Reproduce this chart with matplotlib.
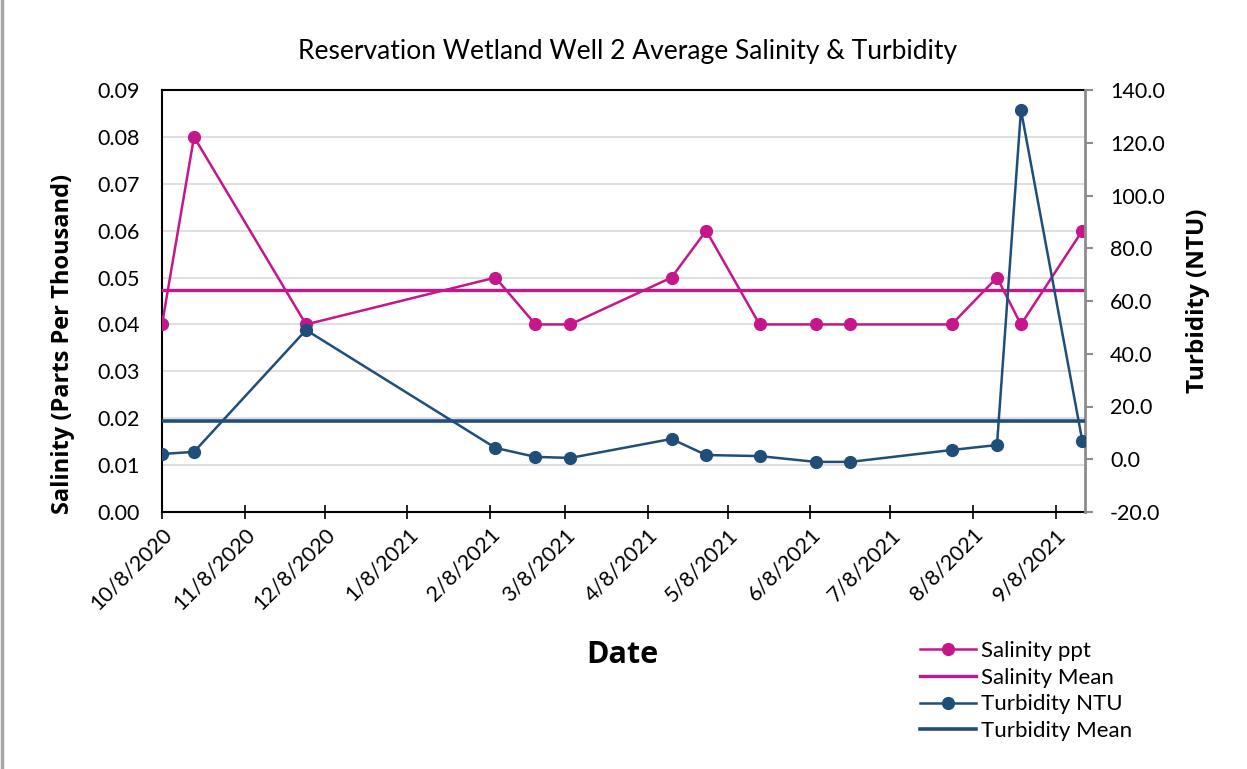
import matplotlib
matplotlib.use("Agg")
import matplotlib.pyplot as plt
from matplotlib.lines import Line2D
import numpy as np
import datetime as dt

# ---- data ----
dates = ["2020-10-08", "2020-10-20", "2020-12-01", "2021-02-10", "2021-02-25",
         "2021-03-10", "2021-04-17", "2021-04-30", "2021-05-20", "2021-06-10",
         "2021-06-23", "2021-07-31", "2021-08-17", "2021-08-26", "2021-09-18"]
salinity = [0.04, 0.08, 0.04, 0.05, 0.04, 0.04, 0.05, 0.06, 0.04, 0.04,
            0.04, 0.04, 0.05, 0.04, 0.06]
turbidity = [2.0, 2.8, 49.0, 4.3, 0.9, 0.5, 7.7, 1.6, 1.2, -1.0,
             -1.0, 3.5, 5.4, 132.4, 6.9]
tick_dates = ["2020-10-08", "2020-11-08", "2020-12-08", "2021-01-08", "2021-02-08",
              "2021-03-08", "2021-04-08", "2021-05-08", "2021-06-08", "2021-07-08",
              "2021-08-08", "2021-09-08"]
title = "Reservation Wetland Well 2 Average Salinity & Turbidity"

x = [dt.datetime.strptime(d, "%Y-%m-%d") for d in dates]
xt = [dt.datetime.strptime(d, "%Y-%m-%d") for d in tick_dates]
sal_mean = float(np.mean(salinity))
turb_mean = float(np.mean(turbidity))

MAG = "#C5168C"
BLUE = "#1F4E79"
TICKFONT = "Lato"
LABELFONT = "Open Sans"
TS = 15.5

fig = plt.figure(figsize=(12.47, 7.69), dpi=100)
ax = fig.add_axes([162/1247, 1-512/769, (1085-162)/1247, (512-90)/769])
ax2 = ax.twinx()

# salinity
ax.plot(x, salinity, color=MAG, lw=1.8, marker="o", ms=8.5, zorder=3)
ax.axhline(sal_mean, color=MAG, lw=2.4, zorder=3)
# turbidity
ax2.plot(x, turbidity, color=BLUE, lw=1.8, marker="o", ms=8.5, zorder=3)
ax2.axhline(turb_mean, color=BLUE, lw=2.6, zorder=3)

ax.set_ylim(0, 0.09)
yl = np.arange(0, 0.0901, 0.01)
ax.set_yticks(yl)
ax.set_yticklabels([f"{v:.2f}" for v in yl], fontsize=TS, family=TICKFONT)
ax.yaxis.grid(True, color="#D9D9D9", lw=1.2)
ax.set_axisbelow(True)
ax.tick_params(axis="y", length=0, pad=16)

ax2.set_ylim(-20, 140)
yr = np.arange(-20, 141, 20)
ax2.set_yticks(yr)
ax2.set_yticklabels([f"{v:.1f}" for v in yr], fontsize=TS, family=TICKFONT)
ax2.tick_params(axis="y", length=6, width=1.5, color="#8C8C8C", pad=12)

ax.set_xlim(x[0], dt.datetime(2021, 9, 19))
ax.set_xticks(xt)
ax.set_xticklabels([f"{d.month}/{d.day}/{d.year}" for d in xt], rotation=45,
                   ha="right", rotation_mode="anchor", fontsize=TS, family=TICKFONT)
ax.tick_params(axis="x", direction="inout", length=10, width=1.2, pad=4)

for s in ["left", "bottom", "top"]:
    ax.spines[s].set_color("black")
    ax.spines[s].set_linewidth(1.5)
ax.spines["right"].set_visible(False)
ax2.spines["right"].set_color("#8C8C8C")
ax2.spines["right"].set_linewidth(2)
ax2.spines["left"].set_visible(False)
ax2.spines["top"].set_visible(False)
ax2.spines["bottom"].set_visible(False)

fig.text(63/1247, 1-344/769, "Salinity (Parts Per Thousand)", fontsize=17,
         fontweight="bold", family=LABELFONT, rotation=90, ha="center", va="center")
fig.text(1198/1247, 1-301/769, "Turbidity (NTU)", fontsize=17.5,
         fontweight="bold", family=LABELFONT, rotation=90, ha="center", va="center")
fig.text(622/1247, 1-655/769, "Date", fontsize=22, fontweight="bold",
         family=LABELFONT, ha="center", va="center")
fig.text(628/1247, 1-51/769, title, fontsize=19, family=TICKFONT,
         ha="center", va="center")

handles = [
    Line2D([], [], color=MAG, lw=1.8, marker="o", ms=8.5),
    Line2D([], [], color=MAG, lw=2.4),
    Line2D([], [], color=BLUE, lw=1.8, marker="o", ms=8.5),
    Line2D([], [], color=BLUE, lw=2.6),
]
labels = ["Salinity ppt", "Salinity Mean", "Turbidity NTU", "Turbidity Mean"]
fig.legend(handles, labels, loc="upper left", bbox_to_anchor=(920/1247, 1-641/769),
           frameon=False, prop={"family": TICKFONT, "size": 16},
           handlelength=2.5, handletextpad=0.25, labelspacing=0.3,
           borderaxespad=0, borderpad=0)

# left border line of the image
fig.add_artist(Line2D([1.5/1247, 1.5/1247], [0, 1], color="#A6A6A6", lw=2.5,
                      transform=fig.transFigure))

fig.savefig("out.png", dpi=100)
